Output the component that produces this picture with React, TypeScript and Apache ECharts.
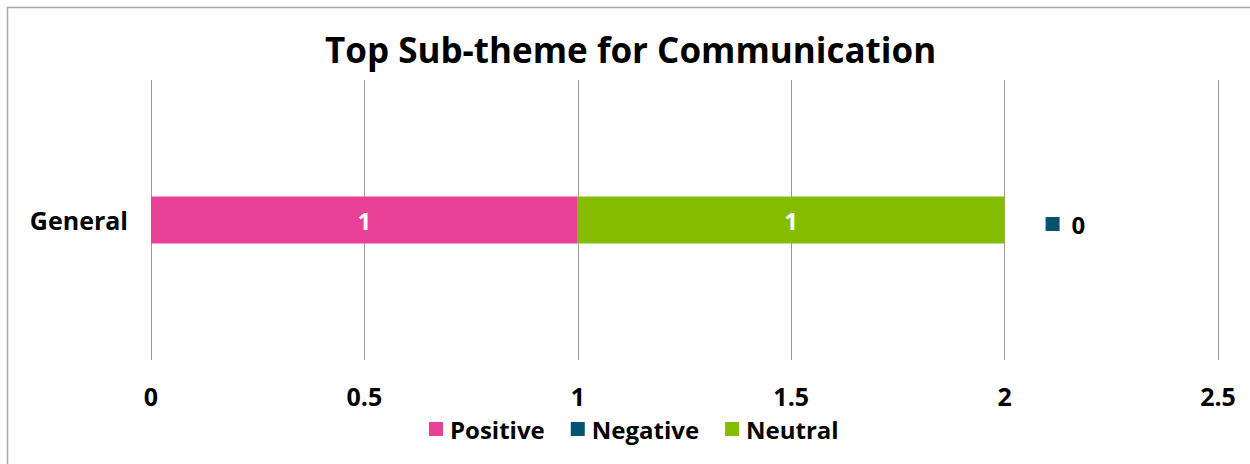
import React, { useEffect, useRef } from "react";
import * as echarts from "echarts";

const categories = ["General"];
const positive = [1];
const negative = [0];
const neutral = [1];
const xTicks = { min: 0, max: 2.5, interval: 0.5 };
const title = "Top Sub-theme for Communication";

const FONT = "'Open Sans', 'Noto Sans', sans-serif";

export default function App() {
  const ref = useRef<HTMLDivElement>(null);
  useEffect(() => {
    if (!ref.current) return;
    const chart = echarts.init(ref.current, undefined, { renderer: "svg" });
    chart.setOption({
      animation: false,
      backgroundColor: "#ffffff",
      textStyle: { fontFamily: FONT },
      title: {
        text: title,
        left: 320,
        top: 27,
        textStyle: { fontSize: 35, fontWeight: "bold", color: "#000", fontFamily: FONT },
      },
      graphic: [
        {
          type: "rect",
          shape: { x: 7.5, y: 7.5, width: 1250, height: 470 },
          style: { fill: "none", stroke: "#a6a6a6", lineWidth: 1.5 },
          silent: true,
        },
      ],
      legend: {
        bottom: 18,
        left: 424,
        itemWidth: 14,
        itemHeight: 14,
        itemGap: 26,
        icon: "rect",
        textStyle: { fontSize: 24, fontWeight: "bold", color: "#000", fontFamily: FONT, padding: [0, 0, 0, 2] },
        data: ["Positive", "Negative", "Neutral"],
      },
      grid: { left: 151, right: 32, top: 80, bottom: 104 },
      xAxis: {
        type: "value",
        min: xTicks.min,
        max: xTicks.max,
        interval: xTicks.interval,
        axisLine: { show: false },
        axisTick: { show: false },
        splitLine: { show: true, lineStyle: { color: "#999999", width: 1 } },
        axisLabel: {
          margin: 23,
          fontSize: 25,
          fontWeight: "bold",
          color: "#000",
          fontFamily: FONT,
          formatter: (v: number) => String(v),
        },
      },
      yAxis: {
        type: "category",
        data: categories,
        axisLine: { show: false },
        axisTick: { show: false },
        axisLabel: { margin: 23, fontSize: 25, fontWeight: "bold", color: "#000", fontFamily: FONT },
      },
      series: [
        {
          name: "Positive",
          type: "bar",
          stack: "total",
          data: positive,
          barWidth: 47,
          itemStyle: { color: "#E84097" },
          label: { show: true, position: "inside", color: "#fff", fontSize: 24, fontWeight: "bold", fontFamily: FONT },
        },
        {
          name: "Neutral",
          type: "bar",
          stack: "total",
          data: neutral,
          barWidth: 47,
          itemStyle: { color: "#84BD00" },
          label: { show: true, position: "inside", color: "#fff", fontSize: 24, fontWeight: "bold", fontFamily: FONT },
        },
        {
          name: "Negative",
          type: "bar",
          stack: "total",
          data: negative,
          barWidth: 47,
          itemStyle: { color: "#00546F" },
          label: {
            show: true,
            position: "right",
            distance: 41,
            offset: [0, 4],
            formatter: (p: any) => `{sq|}{v|${p.value}}`,
            rich: {
              sq: { width: 14, height: 14, backgroundColor: "#00546F" },
              v: { fontSize: 24, fontWeight: "bold", color: "#000", fontFamily: FONT, padding: [0, 0, 0, 12] },
            },
          },
        },
      ],
    });
    return () => chart.dispose();
  }, []);
  return (
    <div
      ref={ref}
      style={{ position: "fixed", left: 0, top: 0, width: 1250, height: 464 }}
    />
  );
}
